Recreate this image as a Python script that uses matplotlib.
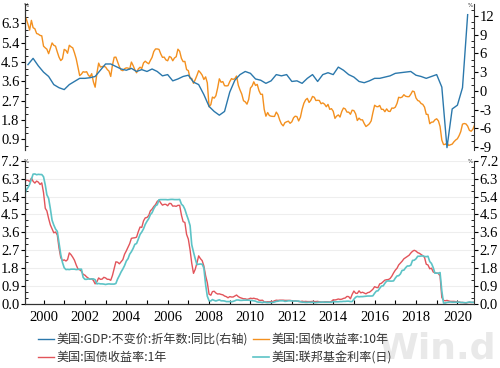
import numpy as np
import pandas as pd
import matplotlib
matplotlib.use("Agg")
import matplotlib.pyplot as plt
from matplotlib.ticker import AutoMinorLocator

# ---- data ----
# US real GDP, yoy %, quarterly from 2000Q1
gdp_yoy = [4.2, 5.2, 4.0, 3.0,
           2.3, 1.0, 0.5, 0.2,
           1.0, 1.5, 2.0, 2.0,
           2.1, 2.3, 3.3, 4.3,
           4.3, 3.9, 3.5, 3.3,
           3.6, 3.1, 3.4, 3.1,
           3.5, 3.1, 2.4, 2.6,
           1.6, 1.9, 2.3, 2.5,
           1.4, 1.0, -0.6, -2.5,
           -3.3, -3.9, -3.3, -0.2,
           1.7, 2.6, 3.1, 2.8,
           1.9, 1.7, 1.2, 1.6,
           2.6, 2.4, 2.6, 1.5,
           1.6, 1.2, 2.0, 2.6,
           1.5, 2.6, 2.9, 2.6,
           3.8, 3.3, 2.6, 2.2,
           1.5, 1.3, 1.6, 2.0,
           2.0, 2.2, 2.4, 2.8,
           2.9, 3.0, 3.1, 2.5,
           2.3, 2.0, 2.3, 2.6,
           0.6, -9.1, -2.9, -2.3,
           0.5, 12.2]

# US treasury 10y yield, monthly from 2000-01
ust10 = [6.66, 6.52, 6.26, 5.99, 6.44, 6.10, 6.05, 5.83, 5.80, 5.74, 5.72, 5.24,
         5.16, 5.10, 4.89, 5.14, 5.39, 5.28, 5.24, 4.97, 4.73, 4.57, 4.65, 5.09,
         5.04, 4.91, 5.28, 5.21, 5.16, 4.93, 4.65, 4.26, 3.87, 3.94, 4.05, 4.03,
         4.05, 3.90, 3.81, 3.96, 3.57, 3.33, 3.98, 4.45, 4.27, 4.29, 4.30, 4.27,
         4.15, 4.08, 3.83, 4.35, 4.72, 4.73, 4.50, 4.28, 4.13, 4.10, 4.19, 4.23,
         4.22, 4.17, 4.50, 4.34, 4.14, 4.00, 4.18, 4.26, 4.20, 4.46, 4.54, 4.47,
         4.42, 4.57, 4.72, 4.99, 5.11, 5.11, 5.09, 4.88, 4.72, 4.73, 4.60, 4.56,
         4.76, 4.72, 4.56, 4.69, 4.75, 5.10, 5.00, 4.67, 4.52, 4.53, 4.15, 4.10,
         3.74, 3.74, 3.51, 3.68, 3.88, 4.10, 4.01, 3.89, 3.69, 3.81, 3.53, 2.42,
         2.52, 2.87, 2.82, 2.93, 3.29, 3.72, 3.56, 3.59, 3.40, 3.39, 3.40, 3.59,
         3.73, 3.69, 3.73, 3.85, 3.42, 3.20, 3.01, 2.70, 2.65, 2.54, 2.76, 3.29,
         3.39, 3.58, 3.41, 3.46, 3.17, 3.00, 3.00, 2.30, 1.98, 2.15, 2.01, 1.98,
         1.97, 1.97, 2.17, 2.05, 1.80, 1.62, 1.53, 1.68, 1.72, 1.75, 1.65, 1.72,
         1.91, 1.98, 1.96, 1.76, 1.93, 2.30, 2.58, 2.74, 2.81, 2.62, 2.72, 2.90,
         2.86, 2.71, 2.72, 2.71, 2.56, 2.60, 2.54, 2.42, 2.53, 2.30, 2.33, 2.21,
         1.88, 1.98, 2.04, 1.94, 2.20, 2.36, 2.32, 2.17, 2.17, 2.07, 2.26, 2.24,
         2.09, 1.78, 1.89, 1.81, 1.81, 1.64, 1.50, 1.56, 1.63, 1.76, 2.14, 2.49,
         2.43, 2.42, 2.48, 2.30, 2.30, 2.19, 2.32, 2.21, 2.20, 2.36, 2.35, 2.40,
         2.58, 2.86, 2.84, 2.87, 2.98, 2.91, 2.89, 2.89, 3.00, 3.15, 3.12, 2.83,
         2.71, 2.68, 2.57, 2.53, 2.40, 2.07, 2.06, 1.63, 1.70, 1.71, 1.81, 1.86,
         1.76, 1.50, 0.87, 0.66, 0.67, 0.73, 0.62, 0.65, 0.68, 0.79, 0.87, 0.93,
         1.08, 1.26, 1.61, 1.64, 1.62, 1.52, 1.32, 1.28, 1.37, 1.58]

# US treasury 1y yield, monthly from 2000-01
ust1 = [6.12, 6.22, 6.22, 6.15, 6.33, 6.17, 6.08, 6.18, 6.13, 6.01, 6.09, 5.60,
        4.81, 4.68, 4.30, 3.98, 3.78, 3.58, 3.62, 3.47, 2.82, 2.33, 2.18, 2.22,
        2.16, 2.23, 2.57, 2.48, 2.35, 2.20, 1.96, 1.76, 1.72, 1.65, 1.49, 1.45,
        1.36, 1.30, 1.24, 1.27, 1.18, 1.01, 1.12, 1.31, 1.24, 1.25, 1.34, 1.31,
        1.24, 1.24, 1.19, 1.43, 1.78, 2.12, 2.10, 2.02, 2.12, 2.23, 2.50, 2.67,
        2.86, 3.03, 3.30, 3.32, 3.33, 3.36, 3.64, 3.87, 3.85, 4.18, 4.33, 4.35,
        4.45, 4.68, 4.77, 4.90, 5.00, 5.16, 5.22, 5.08, 4.97, 5.01, 5.01, 4.94,
        5.06, 5.05, 4.92, 4.93, 4.91, 4.96, 4.96, 4.47, 4.14, 4.10, 3.50, 3.26,
        2.71, 2.05, 1.54, 1.74, 2.06, 2.42, 2.28, 2.18, 1.91, 1.42, 1.07, 0.49,
        0.44, 0.62, 0.64, 0.55, 0.50, 0.51, 0.48, 0.46, 0.40, 0.37, 0.31, 0.37,
        0.35, 0.35, 0.40, 0.45, 0.37, 0.32, 0.29, 0.26, 0.26, 0.23, 0.25, 0.29,
        0.27, 0.29, 0.26, 0.25, 0.19, 0.18, 0.19, 0.11, 0.10, 0.11, 0.11, 0.12,
        0.12, 0.16, 0.19, 0.18, 0.19, 0.19, 0.19, 0.18, 0.18, 0.18, 0.18, 0.16,
        0.15, 0.16, 0.15, 0.12, 0.12, 0.14, 0.12, 0.13, 0.12, 0.12, 0.12, 0.13,
        0.12, 0.12, 0.13, 0.11, 0.10, 0.10, 0.11, 0.11, 0.11, 0.10, 0.13, 0.21,
        0.20, 0.22, 0.25, 0.23, 0.24, 0.28, 0.30, 0.38, 0.37, 0.26, 0.48, 0.65,
        0.54, 0.53, 0.66, 0.56, 0.59, 0.55, 0.51, 0.57, 0.59, 0.66, 0.74, 0.87,
        0.83, 0.82, 1.01, 1.04, 1.12, 1.20, 1.22, 1.23, 1.28, 1.40, 1.56, 1.70,
        1.80, 1.96, 2.06, 2.15, 2.27, 2.33, 2.39, 2.45, 2.56, 2.65, 2.70, 2.66,
        2.58, 2.55, 2.49, 2.43, 2.34, 2.00, 1.96, 1.77, 1.80, 1.61, 1.57, 1.55,
        1.53, 1.41, 0.33, 0.18, 0.16, 0.18, 0.15, 0.13, 0.13, 0.13, 0.12, 0.10,
        0.10, 0.07, 0.08, 0.06, 0.05, 0.07, 0.08, 0.07, 0.08, 0.09]

# effective federal funds rate, monthly from 2000-01
fed_funds = [5.45, 5.73, 5.85, 6.02, 6.27, 6.53, 6.54, 6.50, 6.52, 6.51, 6.51, 6.40,
             5.98, 5.49, 5.31, 4.80, 4.21, 3.97, 3.77, 3.65, 3.07, 2.49, 2.09, 1.82,
             1.73, 1.74, 1.73, 1.75, 1.75, 1.75, 1.73, 1.74, 1.75, 1.75, 1.34, 1.24,
             1.24, 1.26, 1.25, 1.26, 1.26, 1.22, 1.01, 1.03, 1.01, 1.01, 1.00, 0.98,
             1.00, 1.01, 1.00, 1.00, 1.00, 1.03, 1.26, 1.43, 1.61, 1.76, 1.93, 2.16,
             2.28, 2.50, 2.63, 2.79, 3.00, 3.04, 3.26, 3.50, 3.62, 3.78, 4.00, 4.16,
             4.29, 4.49, 4.59, 4.79, 4.94, 4.99, 5.24, 5.25, 5.25, 5.25, 5.25, 5.24,
             5.25, 5.26, 5.26, 5.25, 5.25, 5.25, 5.26, 5.02, 4.94, 4.76, 4.49, 4.24,
             3.94, 2.98, 2.61, 2.28, 1.98, 2.00, 2.01, 2.00, 1.81, 0.97, 0.39, 0.16,
             0.15, 0.22, 0.18, 0.15, 0.18, 0.21, 0.16, 0.16, 0.15, 0.12, 0.12, 0.12,
             0.11, 0.13, 0.16, 0.20, 0.20, 0.18, 0.18, 0.19, 0.19, 0.19, 0.19, 0.18,
             0.17, 0.16, 0.14, 0.10, 0.09, 0.09, 0.07, 0.10, 0.08, 0.07, 0.08, 0.07,
             0.08, 0.10, 0.13, 0.14, 0.16, 0.16, 0.16, 0.13, 0.14, 0.16, 0.16, 0.16,
             0.14, 0.15, 0.14, 0.15, 0.11, 0.09, 0.09, 0.08, 0.08, 0.09, 0.08, 0.09,
             0.07, 0.07, 0.08, 0.09, 0.09, 0.10, 0.09, 0.09, 0.09, 0.09, 0.09, 0.12,
             0.11, 0.11, 0.11, 0.12, 0.12, 0.13, 0.13, 0.14, 0.14, 0.12, 0.12, 0.24,
             0.34, 0.38, 0.36, 0.37, 0.37, 0.38, 0.39, 0.40, 0.40, 0.40, 0.41, 0.54,
             0.65, 0.66, 0.79, 0.90, 0.91, 1.04, 1.15, 1.16, 1.15, 1.15, 1.16, 1.30,
             1.41, 1.42, 1.51, 1.69, 1.70, 1.82, 1.91, 1.91, 1.95, 2.19, 2.20, 2.27,
             2.40, 2.40, 2.41, 2.42, 2.39, 2.38, 2.40, 2.13, 2.04, 1.83, 1.55, 1.55,
             1.55, 1.58, 0.65, 0.05, 0.05, 0.08, 0.09, 0.10, 0.09, 0.09, 0.09, 0.09,
             0.09, 0.08, 0.07, 0.07, 0.06, 0.08, 0.10, 0.09, 0.08, 0.08]

labels = ["美国:GDP:不变价:折年数:同比(右轴)", "美国:国债收益率:1年",
          "美国:国债收益率:10年", "美国:联邦基金利率(日)"]
colors = {"gdp": "#2b78ac", "u10": "#f3901f", "u1": "#e2545a", "ff": "#5cc3c6"}

q_dates = pd.date_range("2000-03-31", periods=len(gdp_yoy), freq="QE")
m_dates = pd.date_range("2000-01-31", periods=len(ust10), freq="ME")

SERIF = "Liberation Serif"
CJK = ["Noto Sans CJK SC", "DejaVu Sans"]

fig = plt.figure(figsize=(5.0, 3.68), dpi=100)
ax_top = fig.add_axes([0.05, 0.592, 0.898, 0.397])
ax_topr = ax_top.twinx()
ax_bot = fig.add_axes([0.05, 0.174, 0.898, 0.389])
ax_botr = ax_bot.twinx()

xlim = (pd.Timestamp("2000-02-08"), pd.Timestamp("2021-10-20"))

l10, = ax_top.plot(m_dates, ust10, color=colors["u10"], lw=1.0)
lg, = ax_topr.plot(q_dates, gdp_yoy, color=colors["gdp"], lw=1.0)
l1, = ax_bot.plot(m_dates, ust1, color=colors["u1"], lw=1.0)
lf, = ax_bot.plot(m_dates, fed_funds, color=colors["ff"], lw=1.2)

left_ticks = [0.9, 1.8, 2.7, 3.6, 4.5, 5.4, 6.3]
bot_ticks = [0.0, 0.9, 1.8, 2.7, 3.6, 4.5, 5.4, 6.3, 7.2]
right_ticks = [-9, -6, -3, 0, 3, 6, 9, 12]

ax_top.set_ylim(0.4, 7.2)
ax_top.set_yticks(left_ticks)
ax_top.set_yticklabels([f"{v:.1f}" for v in left_ticks])
ax_topr.set_ylim(-9.5, 13.9)
ax_topr.set_yticks(right_ticks)
ax_topr.set_yticklabels([str(v) for v in right_ticks])

for a in (ax_bot, ax_botr):
    a.set_ylim(0, 7.2)
    a.set_yticks(bot_ticks)
    a.set_yticklabels([f"{v:.1f}" for v in bot_ticks])
ax_bot.grid(axis="y", color="#eeeeee", lw=0.8)
ax_bot.set_axisbelow(True)

# x axis: year marks sit at year end, labels every 2 years
year_ends = [pd.Timestamp(f"{y}-12-31") for y in range(2000, 2021)]
major = [d for d in year_ends if d.year % 2 == 0]
for a in (ax_top, ax_topr, ax_bot, ax_botr):
    a.set_xlim(xlim)
ax_bot.set_xticks(major)
ax_bot.set_xticklabels([str(d.year) for d in major])
ax_bot.set_xticks(year_ends, minor=True)
ax_bot.tick_params(axis="x", which="both", direction="in", length=3, width=0.8, pad=5)
ax_top.tick_params(axis="x", which="both", bottom=False, labelbottom=False)

for a in (ax_top, ax_topr, ax_bot, ax_botr):
    a.spines["top"].set_visible(False)
    a.yaxis.set_minor_locator(AutoMinorLocator(3))
    a.tick_params(axis="y", which="major", direction="out", length=3, width=0.8, pad=1)
    a.tick_params(axis="y", which="minor", direction="in", length=2, width=0.6)
    for s in a.spines.values():
        s.set_linewidth(0.8)
        s.set_color("#333333")
    for t in a.get_xticklabels() + a.get_yticklabels():
        t.set_fontfamily(SERIF)
        t.set_fontsize(10.5)
ax_top.spines["bottom"].set_visible(False)
ax_topr.spines["bottom"].set_visible(False)
ax_top.spines["right"].set_visible(False)
ax_bot.spines["right"].set_visible(False)

# tiny % unit marks
for x, y in [(0.053, 0.993), (0.94, 0.993), (0.053, 0.568), (0.94, 0.568)]:
    fig.text(x, y, "%", fontsize=4, ha="center", va="top", color="#333333")

fig.legend([lg, l1, l10, lf], labels, ncol=2, loc="upper left",
           bbox_to_anchor=(0.064, 0.112), frameon=False, handlelength=1.3,
           handletextpad=0.25, columnspacing=0.4, labelspacing=0.45, borderpad=0,
           prop={"family": CJK, "size": 8.7}, labelcolor="#333333")

# faint watermark
fig.text(0.992, 0.008, "Win.d", fontsize=26, color="#e9e9e9", fontweight="bold",
         ha="right", va="bottom", zorder=0)

fig.savefig("out.png", dpi=100)
